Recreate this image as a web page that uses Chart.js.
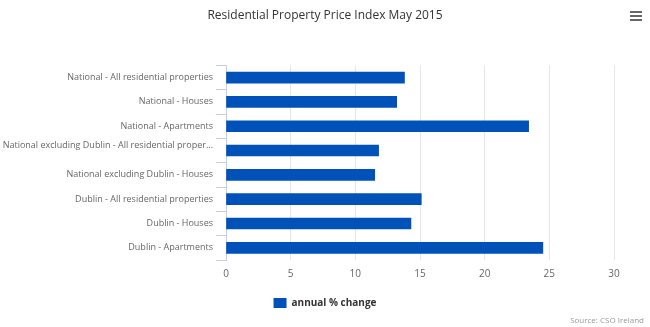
<!DOCTYPE html>
<html>
<head>
<meta charset="utf-8">
<script src="https://cdn.jsdelivr.net/npm/chart.js@4/dist/chart.umd.min.js"></script>
<style>
  html, body { margin: 0; padding: 0; background: #fff; }
  #wrap { width: 650px; height: 327px; position: relative; }
</style>
</head>
<body>
<div id="wrap"><canvas id="rppiChart"></canvas></div>
<script>
const categories = [
  'National - All residential properties',
  'National - Houses',
  'National - Apartments',
  'National excluding Dublin - All residential proper...',
  'National excluding Dublin - Houses',
  'Dublin - All residential properties',
  'Dublin - Houses',
  'Dublin - Apartments'
];
const annualChange = [13.8, 13.2, 23.4, 11.8, 11.5, 15.1, 14.3, 24.5];
const xTicks = [0, 5, 10, 15, 20, 25, 30];

const fontFamily = '"Open Sans", "DejaVu Sans", sans-serif';

// source credit + export menu icon, Highcharts style
const extras = {
  id: 'extras',
  afterDraw(chart) {
    const c = chart.ctx;
    c.save();
    c.fillStyle = '#999';
    c.font = '8px ' + fontFamily;
    c.textAlign = 'right';
    c.textBaseline = 'middle';
    c.fillText('Source: CSO Ireland', 644, 321);
    c.fillStyle = '#666';
    for (let i = 0; i < 3; i++) {
      c.fillRect(630, 11 + i * 4, 12, 2);
    }
    c.restore();
  }
};

new Chart(document.getElementById('rppiChart'), {
  type: 'bar',
  data: {
    labels: categories,
    datasets: [{
      label: 'annual % change',
      data: annualChange,
      backgroundColor: '#0052B9',
      borderWidth: 0,
      barThickness: 11
    }]
  },
  options: {
    indexAxis: 'y',
    responsive: true,
    maintainAspectRatio: false,
    animation: false,
    layout: { padding: { left: 0, right: 0, top: 8, bottom: 9 } },
    plugins: {
      title: {
        display: true,
        text: 'Residential Property Price Index May 2015',
        color: '#333',
        font: { family: fontFamily, size: 12, weight: 'normal' },
        padding: { top: 0, bottom: 43 }
      },
      legend: {
        position: 'bottom',
        labels: {
          color: '#333',
          boxWidth: 13,
          boxHeight: 10,
          padding: 10,
          font: { family: fontFamily, size: 10, weight: 'bold' }
        }
      },
      tooltip: { enabled: false }
    },
    scales: {
      x: {
        min: 0,
        max: 30,
        afterBuildTicks(scale) {
          scale.ticks = xTicks.map(v => ({ value: v }));
        },
        grid: { color: '#E6E6E6', drawTicks: false },
        border: { display: false },
        ticks: { color: '#666', padding: 8, font: { family: fontFamily, size: 10 } }
      },
      y: {
        afterFit(scale) { scale.width = 226; },
        grid: { drawOnChartArea: false, tickLength: 10, color: '#C0D0E0', offset: true },
        border: { display: true, color: '#C0D0E0' },
        ticks: {
          autoSkip: false,
          color: '#666',
          padding: 3,
          font: { family: fontFamily, size: 9 },
          // the cut label sits one line high, as in the original
          callback(value) {
            const t = this.getLabelForValue(value);
            return t.endsWith('...') ? [t, ''] : t;
          }
        }
      },
      // empty right margin so title/legend stay centred on the page
      yRight: {
        position: 'right',
        afterFit(scale) { scale.width = 36; },
        grid: { display: false },
        border: { display: false },
        ticks: { display: false }
      }
    }
  },
  plugins: [extras]
});
</script>
</body>
</html>
